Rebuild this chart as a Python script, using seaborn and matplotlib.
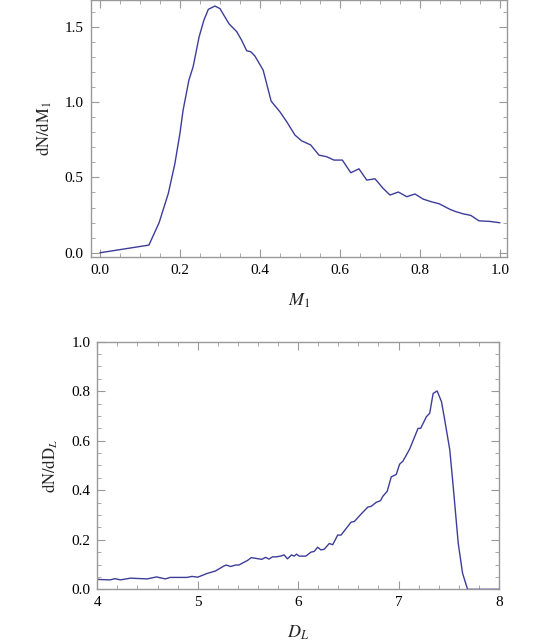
import numpy as np
import pandas as pd
import matplotlib
matplotlib.use('Agg')
import matplotlib.pyplot as plt
from matplotlib.ticker import MultipleLocator, FormatStrFormatter
import seaborn as sns

# top panel: dN/dM1 vs M1
m1 = [0.0, 0.1225, 0.148, 0.171, 0.1875, 0.2, 0.208, 0.2225, 0.233, 0.248,
      0.26, 0.271, 0.2875, 0.30, 0.323, 0.342, 0.354, 0.367, 0.377, 0.3875,
      0.408, 0.428, 0.45, 0.467, 0.4875, 0.504, 0.527, 0.5475, 0.567, 0.585,
      0.606, 0.627, 0.6475, 0.667, 0.6875, 0.708, 0.725, 0.746, 0.767, 0.7875,
      0.808, 0.829, 0.848, 0.875, 0.8875, 0.907, 0.927, 0.9475, 0.975, 1.0]
dn_dm1 = [0.0, 0.051, 0.20, 0.394, 0.593, 0.792, 0.947, 1.146, 1.234, 1.433,
          1.544, 1.615, 1.637, 1.62, 1.518, 1.467, 1.411, 1.34, 1.334, 1.305,
          1.212, 1.006, 0.935, 0.869, 0.781, 0.743, 0.715, 0.648, 0.637, 0.615,
          0.615, 0.531, 0.557, 0.482, 0.491, 0.427, 0.383, 0.403, 0.372, 0.39,
          0.356, 0.338, 0.325, 0.288, 0.275, 0.259, 0.248, 0.212, 0.208, 0.199]

# bottom panel: dN/dD_L vs D_L
dl = [4.0, 4.127, 4.177, 4.23, 4.33, 4.497, 4.59, 4.677, 4.727, 4.893,
      4.943, 5.0, 5.094, 5.177, 5.26, 5.284, 5.327, 5.377, 5.41, 5.46,
      5.494, 5.534, 5.577, 5.637, 5.677, 5.71, 5.744, 5.777, 5.827, 5.86,
      5.894, 5.934, 5.96, 5.984, 6.01, 6.077, 6.127, 6.16, 6.194, 6.227,
      6.26, 6.31, 6.344, 6.394, 6.427, 6.527, 6.56, 6.627, 6.694, 6.727,
      6.777, 6.82, 6.844, 6.887, 6.927, 6.977, 7.01, 7.044, 7.11, 7.194,
      7.22, 7.277, 7.31, 7.344, 7.384, 7.427, 7.454, 7.51, 7.544, 7.594,
      7.637, 7.687, 8.0]
dn_ddl = [0.040, 0.038, 0.043, 0.038, 0.045, 0.042, 0.050, 0.042, 0.048, 0.048,
          0.052, 0.049, 0.064, 0.074, 0.094, 0.098, 0.092, 0.098, 0.098, 0.109,
          0.116, 0.128, 0.125, 0.121, 0.129, 0.122, 0.131, 0.131, 0.134, 0.139,
          0.123, 0.139, 0.134, 0.142, 0.134, 0.134, 0.150, 0.153, 0.170, 0.159,
          0.162, 0.185, 0.180, 0.219, 0.219, 0.271, 0.274, 0.304, 0.332, 0.335,
          0.351, 0.358, 0.376, 0.396, 0.454, 0.464, 0.505, 0.518, 0.566, 0.650,
          0.650, 0.697, 0.711, 0.791, 0.801, 0.758, 0.697, 0.563, 0.415, 0.186,
          0.065, 0.0, 0.0]

df_top = pd.DataFrame({'M1': m1, 'dN': dn_dm1})
df_bot = pd.DataFrame({'DL': dl, 'dN': dn_ddl})

sns.set_style('ticks')
plt.rcParams['font.family'] = ['Liberation Serif', 'DejaVu Serif']
plt.rcParams['mathtext.fontset'] = 'stix'

line_color = '#3d3d99'
frame_color = '#999999'

fig = plt.figure(figsize=(5.45, 6.43), dpi=100)
W, H = 545, 643
ax1 = fig.add_axes([90.7 / W, 1 - 257.3 / H, (507 - 90.7) / W, 257.3 / H])
ax2 = fig.add_axes([97.3 / W, 1 - 589.3 / H, (499 - 97.3) / W, (589.3 - 341.7) / H])

sns.lineplot(data=df_top, x='M1', y='dN', ax=ax1, color=line_color, lw=1.0)
sns.lineplot(data=df_bot, x='DL', y='dN', ax=ax2, color=line_color, lw=1.0)

ax1.set_xlim(-0.023, 1.0175)
ax1.set_ylim(-0.03, 1.677)
ax1.xaxis.set_major_locator(MultipleLocator(0.2))
ax1.xaxis.set_minor_locator(MultipleLocator(0.05))
ax1.yaxis.set_major_locator(MultipleLocator(0.5))
ax1.yaxis.set_minor_locator(MultipleLocator(0.1))
ax1.xaxis.set_major_formatter(FormatStrFormatter('%.1f'))
ax1.yaxis.set_major_formatter(FormatStrFormatter('%.1f'))
ax1.set_xlabel(r'$M_1$', fontsize=13, labelpad=10)
ax1.set_ylabel(r'$\mathrm{dN/dM}_1$', fontsize=12, labelpad=8)

ax2.set_xlim(4, 8)
ax2.set_ylim(0, 1)
ax2.xaxis.set_major_locator(MultipleLocator(1))
ax2.xaxis.set_minor_locator(MultipleLocator(0.2))
ax2.yaxis.set_major_locator(MultipleLocator(0.2))
ax2.yaxis.set_minor_locator(MultipleLocator(0.05))
ax2.yaxis.set_major_formatter(FormatStrFormatter('%.1f'))
ax2.set_xlabel(r'$D_L$', fontsize=13, labelpad=10)
ax2.set_ylabel(r'$\mathrm{dN/d}\mathrm{D}_L$', fontsize=12, labelpad=8)

for ax in (ax1, ax2):
    for s in ax.spines.values():
        s.set_color(frame_color)
        s.set_linewidth(1.0)
    ax.tick_params(which='both', direction='in', top=True, right=True,
                   color=frame_color, labelsize=11, labelcolor='black')
    ax.tick_params(which='major', length=6, width=0.8, pad=5)
    ax.tick_params(which='minor', length=3, width=0.6)

fig.savefig('out.png', dpi=100)
